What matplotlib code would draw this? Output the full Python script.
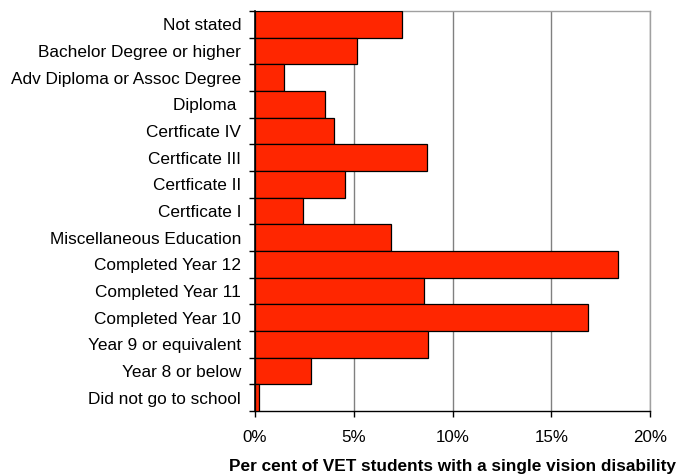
import matplotlib
matplotlib.use("Agg")
import matplotlib.pyplot as plt
from matplotlib.ticker import FuncFormatter, FixedLocator
import numpy as np

plt.rcParams['font.family'] = ['Liberation Sans', 'DejaVu Sans']

categories = ["Not stated", "Bachelor Degree or higher", "Adv Diploma or Assoc Degree",
              "Diploma ", "Certficate IV", "Certficate III", "Certficate II", "Certficate I",
              "Miscellaneous Education", "Completed Year 12", "Completed Year 11",
              "Completed Year 10", "Year 9 or equivalent", "Year 8 or below",
              "Did not go to school"]
values = [7.44, 5.17, 1.45, 3.52, 3.99, 8.69, 4.58, 2.45, 6.91, 18.37, 8.55, 16.87, 8.77, 2.86, 0.2]
xticks = [0, 5, 10, 15, 20]

fig = plt.figure(figsize=(6.89, 4.76), dpi=100)
ax = fig.add_axes([255/689, 1-411/476, 395/689, 400/476])

n = len(categories)
y = np.arange(n)[::-1]
ax.barh(y, values, height=1.0, color='#FF2600', edgecolor='black', linewidth=0.9, zorder=3)
ax.set_ylim(-0.5, n-0.5)
ax.set_xlim(0, 20)
ax.set_xticks(xticks)
ax.xaxis.set_major_formatter(FuncFormatter(lambda v, p: f"{v:.0f}%"))
ax.set_yticks(y)
ax.set_yticklabels(categories)
ax.yaxis.set_minor_locator(FixedLocator(np.arange(-0.5, n, 1.0)))
ax.tick_params(axis='y', which='major', length=0, pad=10, labelsize=12.4)
ax.tick_params(axis='y', which='minor', length=4, width=1, color='black', direction='out')
ax.tick_params(axis='x', length=4, width=1, direction='out', pad=10, labelsize=12.2)
ax.grid(axis='x', color='#808080', linewidth=1, zorder=0)
for s in ['top', 'right']:
    ax.spines[s].set_color('#a0a0a0')
    ax.spines[s].set_linewidth(1)
ax.spines['left'].set_linewidth(1.2)
ax.spines['bottom'].set_linewidth(1)
ax.spines['left'].set_zorder(4)
ax.set_xlabel("Per cent of VET students with a single vision disability",
              fontsize=12.4, fontweight='bold', labelpad=10)
fig.savefig("out.png", dpi=100)
